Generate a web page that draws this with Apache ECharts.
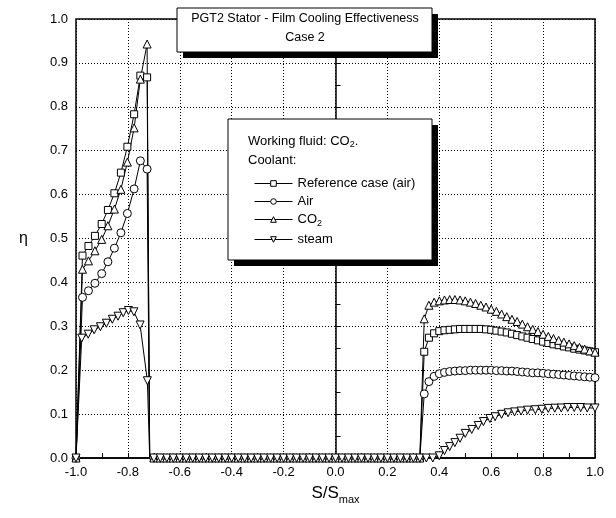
<!DOCTYPE html>
<html>
<head>
<meta charset="utf-8">
<script src="https://cdn.jsdelivr.net/npm/echarts@6/dist/echarts.min.js"></script>
<style>
  html, body { margin: 0; padding: 0; background: #fff; }
  #chart { width: 616px; height: 518px; }
</style>
</head>
<body>
<div id="chart"></div>
<script>
const seriesNames = ['Reference case (air)', 'Air', 'CO2', 'steam']

// every curve starts at (-1, 0) and drops back to 0 just after the suction-side peak
const startX = -1.0
const dropX = -0.716

// suction side (S/Smax < 0)
const leftX = [-0.975, -0.952, -0.927, -0.901, -0.877, -0.852, -0.827, -0.802, -0.776, -0.752, -0.726]
const refLeft = [0.461, 0.483, 0.506, 0.533, 0.565, 0.603, 0.65, 0.709, 0.783, 0.871, 0.867]
const airLeft = [0.366, 0.381, 0.398, 0.42, 0.447, 0.478, 0.513, 0.557, 0.613, 0.677, 0.658]
const co2Left = [0.43, 0.449, 0.472, 0.498, 0.529, 0.567, 0.612, 0.674, 0.752, 0.863, 0.943]
const steamLeftX = [-0.978, -0.953, -0.93, -0.906, -0.883, -0.86, -0.838, -0.818, -0.798, -0.777, -0.753, -0.725]
const steamLeft = [0.273, 0.282, 0.292, 0.299, 0.307, 0.316, 0.323, 0.331, 0.336, 0.333, 0.303, 0.176]

// zero region between the two cooled zones
const gapX = [-0.7, -0.675, -0.65, -0.625, -0.6, -0.575, -0.55, -0.525, -0.5, -0.475, -0.45, -0.425,
  -0.4, -0.375, -0.35, -0.325, -0.3, -0.275, -0.25, -0.225, -0.2, -0.175, -0.15, -0.125, -0.1,
  -0.075, -0.05, -0.025, 0, 0.025, 0.05, 0.075, 0.1, 0.125, 0.15, 0.175, 0.2, 0.225, 0.25, 0.275,
  0.3, 0.325]
const gapZeros = [0, 0, 0, 0, 0, 0, 0, 0, 0, 0, 0, 0, 0, 0, 0, 0, 0, 0, 0, 0, 0, 0, 0, 0, 0, 0, 0,
  0, 0, 0, 0, 0, 0, 0, 0, 0, 0, 0, 0, 0, 0, 0]

// pressure side (S/Smax > 0)
const rightX = [0.342, 0.36, 0.38, 0.4, 0.42, 0.44, 0.46, 0.48, 0.5, 0.52, 0.54, 0.56, 0.58, 0.6,
  0.62, 0.64, 0.66, 0.68, 0.7, 0.72, 0.74, 0.76, 0.78, 0.8, 0.82, 0.84, 0.86, 0.88, 0.9, 0.92,
  0.94, 0.96, 0.98, 1.0]
const refRight = [0.242, 0.274, 0.284, 0.289, 0.291, 0.292, 0.293, 0.294, 0.294, 0.294, 0.294,
  0.294, 0.293, 0.292, 0.29, 0.288, 0.286, 0.283, 0.28, 0.277, 0.274, 0.271, 0.268, 0.265, 0.262,
  0.259, 0.257, 0.254, 0.252, 0.249, 0.247, 0.245, 0.243, 0.241]
const airRight = [0.146, 0.174, 0.186, 0.192, 0.195, 0.197, 0.198, 0.199, 0.199, 0.2, 0.2, 0.2,
  0.2, 0.2, 0.199, 0.199, 0.198, 0.198, 0.197, 0.196, 0.195, 0.194, 0.194, 0.193, 0.192, 0.191,
  0.19, 0.189, 0.188, 0.187, 0.186, 0.185, 0.184, 0.183]
const co2Right = [0.317, 0.348, 0.355, 0.358, 0.36, 0.361, 0.361, 0.36, 0.358, 0.355, 0.352,
  0.348, 0.344, 0.339, 0.334, 0.328, 0.322, 0.316, 0.311, 0.305, 0.299, 0.293, 0.288, 0.282,
  0.277, 0.272, 0.268, 0.264, 0.26, 0.256, 0.252, 0.248, 0.244, 0.241]
const steamRightX = [0.35, 0.375, 0.4, 0.42, 0.44, 0.46, 0.48, 0.5, 0.525, 0.55, 0.57, 0.595,
  0.615, 0.64, 0.665, 0.69, 0.715, 0.74, 0.77, 0.795, 0.82, 0.845, 0.87, 0.895, 0.92, 0.945,
  0.97, 1.0]
const steamRight = [0, 0, 0.005, 0.017, 0.026, 0.035, 0.045, 0.056, 0.065, 0.074, 0.083, 0.09,
  0.094, 0.0995, 0.103, 0.105, 0.107, 0.109, 0.11, 0.111, 0.113, 0.1135, 0.114, 0.115, 0.115,
  0.115, 0.114, 0.114]

const font = 'Liberation Sans, Arial, sans-serif'

const pairs = (xs, ys) => xs.map((x, i) => [x, ys[i]])

const buildCurve = (lx, ly, rx, ry) => [
  [startX, 0],
  ...pairs(lx, ly),
  { value: [dropX, 0], symbol: 'none' },
  ...pairs(gapX, gapZeros),
  ...pairs(rx, ry)
]

const makeSeries = (name, data, symbol, rotate) => ({
  type: 'line',
  name: name,
  data: data,
  symbol: symbol,
  symbolSize: symbol === 'rect' ? 7 : 8,
  symbolRotate: rotate || 0,
  showAllSymbol: true,
  lineStyle: { color: '#000', width: 1 },
  itemStyle: { color: '#fff', borderColor: '#000', borderWidth: 1 },
  emphasis: { disabled: true },
  z: 5
})

const chart = echarts.init(document.getElementById('chart'), null, { renderer: 'canvas' })

const option = {
  animation: false,
  backgroundColor: '#fff',
  textStyle: { fontFamily: font },
  grid: {
    left: 76,
    right: 21,
    top: 19,
    bottom: 60,
    show: true,
    borderColor: '#000',
    borderWidth: 1.5
  },
  xAxis: {
    type: 'value',
    min: -1,
    max: 1,
    interval: 0.2,
    name: '{a|S/S}{b|max}',
    nameLocation: 'middle',
    nameGap: 24,
    nameTextStyle: {
      verticalAlign: 'top',
      rich: {
        a: { fontSize: 17, color: '#000', fontFamily: font },
        b: { fontSize: 11, color: '#000', fontFamily: font, padding: [12, 0, 0, 0] }
      }
    },
    axisLine: { lineStyle: { color: '#000', width: 1.5 } },
    axisTick: { inside: true, length: 5, lineStyle: { color: '#000', width: 1 } },
    minorTick: { show: true, splitNumber: 2, length: 5, lineStyle: { color: '#000', width: 1 } },
    axisLabel: {
      color: '#000',
      fontSize: 13,
      margin: 8,
      formatter: v => v.toFixed(1)
    },
    splitLine: { show: true, lineStyle: { color: '#000', width: 1, type: [1, 2] } }
  },
  yAxis: {
    type: 'value',
    min: 0,
    max: 1,
    interval: 0.1,
    name: 'η',
    nameLocation: 'middle',
    nameRotate: 0,
    nameGap: 48,
    nameTextStyle: { fontSize: 16, color: '#000', fontFamily: font },
    axisLine: { show: true, lineStyle: { color: '#000', width: 1.5 } },
    axisTick: { inside: true, length: 5, lineStyle: { color: '#000', width: 1 } },
    minorTick: { show: true, splitNumber: 2, length: 5, lineStyle: { color: '#000', width: 1 } },
    axisLabel: {
      color: '#000',
      fontSize: 13,
      margin: 8,
      formatter: v => v.toFixed(1)
    },
    splitLine: { show: true, lineStyle: { color: '#000', width: 1, type: [1, 2] } }
  },
  legend: {
    data: seriesNames,
    orient: 'vertical',
    left: 249,
    top: 172,
    itemWidth: 38,
    itemHeight: 7,
    itemGap: 5,
    z: 30,
    selectedMode: false,
    lineStyle: { width: 1, color: '#000' },
    itemStyle: { color: '#fff', borderColor: '#000', borderWidth: 1 },
    formatter: name => name === 'CO2' ? '{n|CO}{s|2}' : '{n|' + name + '}',
    textStyle: {
      color: '#000',
      fontFamily: font,
      rich: {
        n: { fontSize: 13, color: '#000', fontFamily: font, lineHeight: 15 },
        s: { fontSize: 9, color: '#000', fontFamily: font, padding: [8, 0, 0, 0] }
      }
    }
  },
  graphic: [
    // title box
    { type: 'rect', z: 20, shape: { x: 183, y: 14, width: 255, height: 44 }, style: { fill: '#000' } },
    { type: 'rect', z: 21, shape: { x: 177, y: 8, width: 255, height: 44 }, style: { fill: '#fff', stroke: '#000', lineWidth: 1 } },
    { type: 'text', z: 22, x: 305, y: 19, style: { text: 'PGT2 Stator - Film Cooling Effectiveness', font: '12.5px ' + font, fill: '#000', align: 'center', verticalAlign: 'middle' } },
    { type: 'text', z: 22, x: 305, y: 38, style: { text: 'Case 2', font: '12.5px ' + font, fill: '#000', align: 'center', verticalAlign: 'middle' } },
    // legend box
    { type: 'rect', z: 20, shape: { x: 234, y: 125, width: 204, height: 141 }, style: { fill: '#000' } },
    { type: 'rect', z: 21, shape: { x: 228, y: 119, width: 204, height: 141 }, style: { fill: '#fff', stroke: '#000', lineWidth: 1 } },
    {
      type: 'text', z: 22, x: 248, y: 141,
      style: {
        text: '{n|Working fluid: CO}{s|2}{n|.}',
        fill: '#000',
        verticalAlign: 'middle',
        rich: {
          n: { fontSize: 13, fontFamily: font, fill: '#000' },
          s: { fontSize: 9, fontFamily: font, fill: '#000', padding: [8, 0, 0, 0] }
        }
      }
    },
    { type: 'text', z: 22, x: 248, y: 160, style: { text: 'Coolant:', font: '13px ' + font, fill: '#000', verticalAlign: 'middle' } }
  ],
  series: [
    makeSeries(seriesNames[0], buildCurve(leftX, refLeft, rightX, refRight), 'rect'),
    makeSeries(seriesNames[1], buildCurve(leftX, airLeft, rightX, airRight), 'circle'),
    makeSeries(seriesNames[2], buildCurve(leftX, co2Left, rightX, co2Right), 'triangle'),
    makeSeries(seriesNames[3], buildCurve(steamLeftX, steamLeft, steamRightX, steamRight), 'triangle', 180)
  ]
}

chart.setOption(option)
</script>
</body>
</html>
